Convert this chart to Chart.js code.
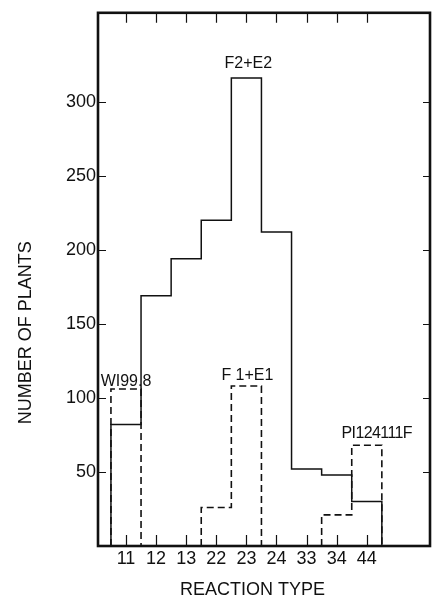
<!DOCTYPE html>
<html>
<head>
<meta charset="utf-8">
<script src="https://cdn.jsdelivr.net/npm/chart.js@4"></script>
<style>
  html, body { margin: 0; padding: 0; background: #fff; }
  canvas { display: block; }
</style>
</head>
<body>
<canvas id="chart" width="432" height="598"></canvas>
<script>
// reaction type classes on the x axis
const reactionTypes = ['11', '12', '13', '22', '23', '24', '33', '34', '44'];
const yTicks = [50, 100, 150, 200, 250, 300];

// F2 + E2 population (solid), one value per reaction type
const f2e2 = [82, 169, 194, 220, 316, 212, 52, 48, 30];

// parents / F1 (dashed); each starts at the given reaction type
const wi998Start = '11';
const wi998 = [106];
const f1e1Start = '22';
const f1e1 = [26, 108];
const piStart = '34';
const pi124111f = [21, 68];

// text written over the bars
const noteTexts = ['F2+E2', 'WI99.8', 'F 1+E1', 'PI124111F'];
const noteTypes = ['23', '11', '23', '44'];
const noteValues = [316, 106, 108, 68];

const xTitle = 'REACTION TYPE';
const yTitle = 'NUMBER OF PLANTS';

const FONT = 'Liberation Sans, Arial, sans-serif';

// histogram outline: corner points of each bin, closed to the baseline
function stepPoints(startType, values) {
    const s = reactionTypes.indexOf(startType);
    const pts = [{ x: s - 0.5, y: 0 }];
    values.forEach((v, k) => {
        pts.push({ x: s + k - 0.5, y: v });
        pts.push({ x: s + k + 0.5, y: v });
    });
    pts.push({ x: s + values.length - 0.5, y: 0 });
    return pts;
}

function lineSet(label, pts, dashed) {
    return {
        label: label,
        data: pts,
        borderColor: '#111',
        borderWidth: dashed ? 1.6 : 1.5,
        borderDash: dashed ? [7, 4] : [],
        pointRadius: 0,
        tension: 0,
        fill: false
    };
}

const frameAndNotes = {
    id: 'frameAndNotes',
    afterDraw(chart) {
        const { ctx, chartArea: a, scales: { x, y } } = chart;
        ctx.save();
        ctx.strokeStyle = '#111';
        ctx.lineWidth = 2.6;
        ctx.strokeRect(a.left, a.top, a.right - a.left, a.bottom - a.top);

        // inward tick marks on all four sides
        ctx.lineWidth = 1.2;
        ctx.beginPath();
        yTicks.forEach(v => {
            const py = Math.round(y.getPixelForValue(v)) + 0.5;
            ctx.moveTo(a.left, py); ctx.lineTo(a.left + 8, py);
            ctx.moveTo(a.right - 7, py); ctx.lineTo(a.right, py);
        });
        reactionTypes.forEach((t, i) => {
            const px = Math.round(x.getPixelForValue(i)) + 0.5;
            ctx.moveTo(px, a.bottom); ctx.lineTo(px, a.bottom - 11);
            ctx.moveTo(px, a.top); ctx.lineTo(px, a.top + 10);
        });
        ctx.stroke();

        // bar labels
        const nudgeX = [2, 0, 1, 10];
        const gap = [10, 3, 6, 7];
        ctx.fillStyle = '#111';
        ctx.font = '16px ' + FONT;
        ctx.textAlign = 'center';
        ctx.textBaseline = 'alphabetic';
        noteTexts.forEach((txt, k) => {
            const px = x.getPixelForValue(reactionTypes.indexOf(noteTypes[k])) + nudgeX[k];
            const py = y.getPixelForValue(noteValues[k]) - gap[k];
            if (k === 3) ctx.letterSpacing = '-0.6px';
            ctx.fillText(txt, px, py);
            ctx.letterSpacing = '0px';
        });

        // axis titles, placed as in the original figure
        ctx.font = '18px ' + FONT;
        ctx.textBaseline = 'middle';
        ctx.fillText(xTitle, x.getPixelForValue(4.2), 590);
        ctx.translate(26, y.getPixelForValue(144));
        ctx.rotate(-Math.PI / 2);
        ctx.fillText(yTitle, 0, 0);
        ctx.restore();
    }
};

new Chart(document.getElementById('chart'), {
    type: 'line',
    data: {
        datasets: [
            lineSet('F2+E2', stepPoints(reactionTypes[0], f2e2), false),
            lineSet('WI99.8', stepPoints(wi998Start, wi998), true),
            lineSet('F1+E1', stepPoints(f1e1Start, f1e1), true),
            lineSet('PI124111F', stepPoints(piStart, pi124111f), true)
        ]
    },
    options: {
        responsive: false,
        animation: false,
        devicePixelRatio: 1,
        layout: { padding: { top: 10, right: 2, left: 0, bottom: 0 } },
        plugins: {
            legend: { display: false },
            tooltip: { enabled: false }
        },
        scales: {
            x: {
                type: 'linear',
                min: -0.93,
                max: 10.1,
                afterBuildTicks: s => { s.ticks = reactionTypes.map((t, i) => ({ value: i })); },
                afterFit: s => { s.height = 52; },
                ticks: {
                    callback: v => reactionTypes[v],
                    color: '#111',
                    font: { family: FONT, size: 18 },
                    padding: 2,
                    maxRotation: 0,
                    autoSkip: false
                },
                grid: { display: false, drawTicks: false },
                border: { display: false }
            },
            y: {
                min: 0,
                max: 360,
                afterBuildTicks: s => { s.ticks = yTicks.map(v => ({ value: v })); },
                afterFit: s => { s.width = 98; },
                ticks: {
                    color: '#111',
                    font: { family: FONT, size: 18 },
                    padding: 2
                },
                grid: { display: false, drawTicks: false },
                border: { display: false }
            }
        }
    },
    plugins: [frameAndNotes]
});
</script>
</body>
</html>
